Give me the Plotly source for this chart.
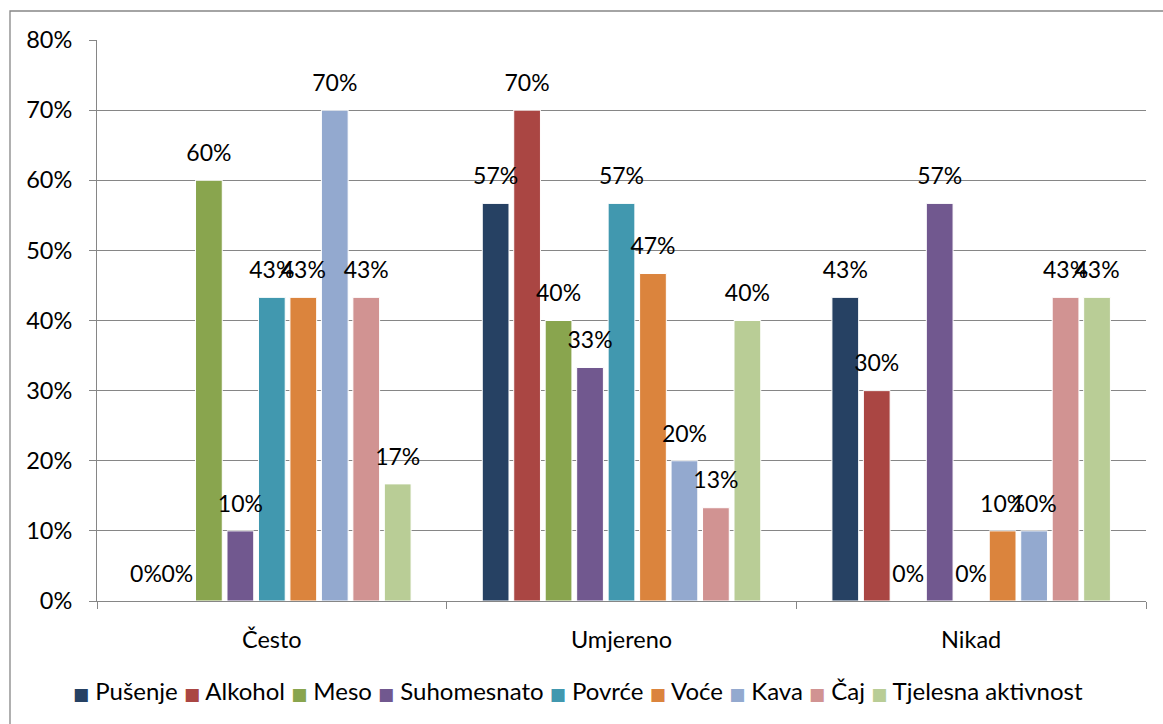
import plotly.graph_objects as go

categories = ["Često", "Umjereno", "Nikad"]
series_names = ["Pušenje", "Alkohol", "Meso", "Suhomesnato", "Povrće",
                "Voće", "Kava", "Čaj", "Tjelesna aktivnost"]
pusenje = [0.0, 0.567, 0.433]
alkohol = [0.0, 0.70, 0.30]
meso = [0.60, 0.40, 0.0]
suhomesnato = [0.10, 0.333, 0.567]
povrce = [0.433, 0.567, 0.0]
voce = [0.433, 0.467, 0.10]
kava = [0.70, 0.20, 0.10]
caj = [0.433, 0.133, 0.433]
tjelesna = [0.167, 0.40, 0.433]
series_values = [pusenje, alkohol, meso, suhomesnato, povrce, voce, kava, caj, tjelesna]
colors = ["#264163", "#AA4643", "#89A54E", "#71588F", "#4198AF",
          "#DB843D", "#93A9CF", "#D19392", "#B9CD96"]
y_ticks = [0, 0.1, 0.2, 0.3, 0.4, 0.5, 0.6, 0.7, 0.8]

FONT = "Lato"
FS = 23.5
LABEL_FS = 23
LEGEND_FS = 24
GRID = "#868686"
BARGAP = 0.19

fig = go.Figure()
for name, vals, col in zip(series_names, series_values, colors):
    fig.add_trace(go.Bar(
        x=categories, y=vals, name=name,
        marker=dict(color=col, line=dict(color="white", width=1)),
        showlegend=False, hoverinfo="skip",
    ))
for name, vals, col in zip(series_names, series_values, colors):
    fig.add_trace(go.Scatter(
        x=categories, y=vals, mode="markers+text",
        text=[f"{round(v * 100):.0f}%" for v in vals],
        textposition="top center",
        textfont=dict(family=FONT, size=LABEL_FS, color="black"),
        marker=dict(size=20, color="rgba(0,0,0,0)"),
        showlegend=False, hoverinfo="skip", cliponaxis=False,
    ))

legend_text = " ".join(
    f"<span style='color:{c};font-family:DejaVu Sans;font-size:17px'>■</span> {n}"
    for n, c in zip(series_names, colors)
)
fig.add_annotation(
    text=legend_text, xref="paper", yref="paper", x=(578 - 97) / 1049, y=-0.16,
    xanchor="center", yanchor="middle", showarrow=False,
    font=dict(family=FONT, size=LEGEND_FS, color="black"),
)

fig.add_shape(type="rect", xref="paper", yref="paper",
              x0=(10 - 97) / 1049, x1=1.2, y0=-0.5, y1=1 + 29 / 561,
              line=dict(color=GRID, width=1.3))

fig.update_layout(
    width=1163, height=724,
    margin=dict(l=97, r=17, t=40, b=123),
    paper_bgcolor="white", plot_bgcolor="white",
    barmode="group", bargap=BARGAP, bargroupgap=0.15,
    scattermode="group", scattergap=BARGAP,
    font=dict(family=FONT, size=FS, color="black"),
)
fig.update_yaxes(
    range=[0, 0.8], tickvals=y_ticks, tickformat=".0%",
    showgrid=True, gridcolor=GRID, gridwidth=1,
    showline=True, linecolor=GRID, linewidth=1,
    ticks="outside", ticklen=7, tickcolor=GRID,
    ticklabelstandoff=12, zeroline=False,
    tickfont=dict(family=FONT, size=FS, color="black"),
)
fig.update_xaxes(
    showline=True, linecolor=GRID, linewidth=1,
    ticks="outside", ticklen=7, tickcolor=GRID, tickson="boundaries",
    ticklabelstandoff=18,
    tickfont=dict(family=FONT, size=FS, color="black"),
)

fig.write_html("out.html", config={"displayModeBar": False},
               post_script="document.body.style.margin='0px';document.body.style.overflow='hidden';")
